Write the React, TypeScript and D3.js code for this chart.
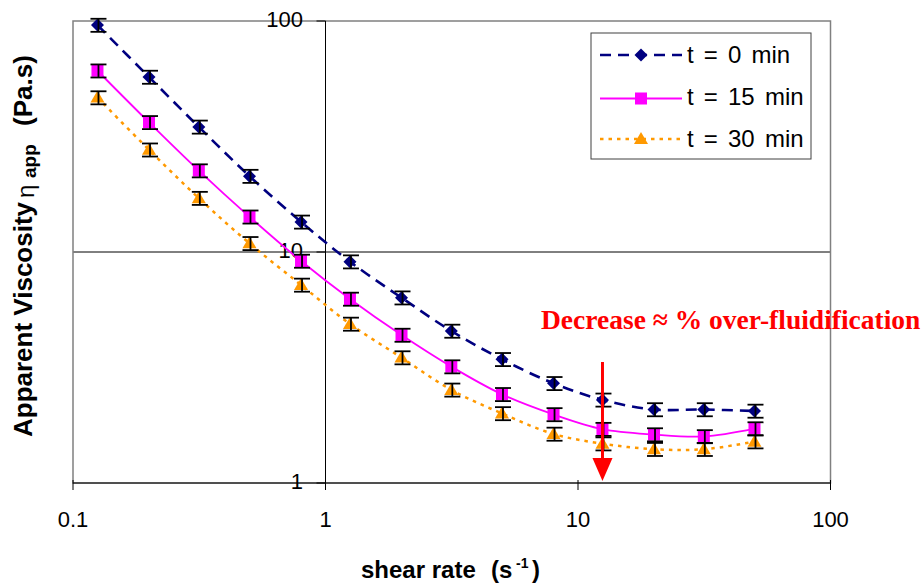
import React from "react";
import * as d3 from "d3";

const shearRate = [0.125, 0.2, 0.315, 0.5, 0.8, 1.25, 2, 3.15, 5, 8, 12.5, 20, 31.5, 50];
const eta0 = [96, 57.2, 34.8, 21.3, 13.5, 9.08, 6.34, 4.55, 3.43, 2.7, 2.29, 2.08, 2.08, 2.05];
const eta15 = [60.9, 36.4, 22.5, 14.2, 9.14, 6.26, 4.37, 3.19, 2.42, 1.98, 1.71, 1.62, 1.59, 1.72];
const eta30 = [46.6, 27.7, 17.1, 10.9, 7.2, 4.88, 3.49, 2.53, 2.0, 1.63, 1.48, 1.4, 1.4, 1.51];
const relError = [0.065, 0.065, 0.065];
const seriesNames = ["t = 0 min", "t = 15 min", "t = 30 min"];
const xTicks = [0.1, 1, 10, 100];
const yTicks = [1, 10, 100];
const arrowX = 12.5;
const annotation = "Decrease ≈ % over-fluidification";

const W = 923, H = 586;
const L = 73, R = 830.5, T = 21, B = 483;
const SANS = "'Liberation Sans', Arial, sans-serif";
const SERIF = "'Liberation Serif', 'Times New Roman', serif";

type Series = { name: string; values: number[]; color: string; dash: string; width: number; marker: string; err: number };

export default function App() {
  const x = d3.scaleLog().domain([0.1, 100]).range([L, R]);
  const y = d3.scaleLog().domain([1, 100]).range([B, T]);
  const series: Series[] = [
    { name: seriesNames[0], values: eta0, color: "#000080", dash: "11,7", width: 2.6, marker: "diamond", err: relError[0] },
    { name: seriesNames[1], values: eta15, color: "#FF00FF", dash: "", width: 1.8, marker: "square", err: relError[1] },
    { name: seriesNames[2], values: eta30, color: "#FF9900", dash: "3.5,5", width: 2.5, marker: "triangle", err: relError[2] },
  ];
  const line = d3
    .line<number>()
    .x((_, i) => x(shearRate[i]))
    .y((d) => y(d))
    .curve(d3.curveCatmullRom.alpha(0.5));

  const marker = (type: string, cx: number, cy: number, color: string, key: string) => {
    if (type === "diamond") {
      const s = 6.5;
      return <path key={key} d={`M${cx},${cy - s}L${cx + s},${cy}L${cx},${cy + s}L${cx - s},${cy}Z`} fill={color} />;
    }
    if (type === "square") {
      const s = 6;
      return <rect key={key} x={cx - s} y={cy - s} width={2 * s} height={2 * s} fill={color} />;
    }
    const s = 7;
    return <path key={key} d={`M${cx},${cy - s}L${cx + s},${cy + 5}L${cx - s},${cy + 5}Z`} fill={color} />;
  };

  const legendRows = [55, 98.5, 139];
  const legendText = [63, 105, 147];

  return (
    <svg width={W} height={H} style={{ position: "absolute", left: 0, top: 0, background: "#fff" }}>
      <rect x={0} y={0} width={W} height={H} fill="#fff" />
      {/* grid line */}
      <line x1={L} x2={R} y1={y(10)} y2={y(10)} stroke="#000" strokeWidth={1} />
      {/* plot border */}
      <rect x={L} y={T} width={R - L} height={B - T} fill="none" stroke="#808080" strokeWidth={1.5} />
      {/* x axis */}
      <line x1={L} x2={R} y1={B} y2={B} stroke="#000" strokeWidth={1} />
      {xTicks.map((t) => (
        <g key={"xt" + t}>
          <line x1={x(t)} x2={x(t)} y1={B - 3} y2={B + 7} stroke="#000" strokeWidth={1} />
          <text x={x(t)} y={527} textAnchor="middle" fontFamily={SANS} fontSize={22}>
            {t}
          </text>
        </g>
      ))}
      {/* y axis at x = 1 */}
      <line x1={x(1)} x2={x(1)} y1={T} y2={B} stroke="#000" strokeWidth={1} />
      {yTicks.map((t) => (
        <g key={"yt" + t}>
          <line x1={x(1) - 9} x2={x(1)} y1={y(t)} y2={y(t)} stroke="#000" strokeWidth={1} />
          <text x={303} y={y(t) + 5.5} textAnchor="end" fontFamily={SANS} fontSize={22}>
            {t}
          </text>
        </g>
      ))}
      {/* series lines */}
      {series.map((s) => (
        <path key={"l" + s.name} d={line(s.values) || ""} fill="none" stroke={s.color} strokeWidth={s.width} strokeDasharray={s.dash || undefined} />
      ))}
      {/* markers */}
      {series.map((s, si) => s.values.map((v, i) => marker(s.marker, x(shearRate[i]), y(v), s.color, `m${si}-${i}`)))}
      {/* error bars */}
      {series.map((s, si) =>
        s.values.map((v, i) => {
          const cx = x(shearRate[i]) + 1;
          const y1 = y(v * (1 + s.err));
          const y2 = y(v * (1 - s.err));
          return (
            <g key={`e${si}-${i}`} stroke="#000" strokeWidth={1.8}>
              <line x1={cx} x2={cx} y1={y1} y2={y2} />
              <line x1={cx - 8} x2={cx + 8} y1={y1} y2={y1} />
              <line x1={cx - 8} x2={cx + 8} y1={y2} y2={y2} />
            </g>
          );
        })
      )}
      {/* annotation */}
      <line x1={x(arrowX)} x2={x(arrowX)} y1={362} y2={460} stroke="#FF0000" strokeWidth={3} />
      <path d={`M${x(arrowX) - 10},458L${x(arrowX) + 10},458L${x(arrowX)},481Z`} fill="#FF0000" />
      <text x={541} y={329} fontFamily={SERIF} fontWeight="bold" fontSize={27.5} fill="#FF0000">
        {annotation}
      </text>
      {/* legend */}
      <rect x={591} y={33} width={220} height={126} fill="#fff" stroke="#404040" strokeWidth={1} />
      {series.map((s, i) => (
        <g key={"lg" + i}>
          <line x1={600} x2={682} y1={legendRows[i]} y2={legendRows[i]} stroke={s.color} strokeWidth={s.width} strokeDasharray={s.dash || undefined} />
          {marker(s.marker, 641, legendRows[i], s.color, "lm" + i)}
          <text x={687} y={legendText[i]} fontFamily={SANS} fontSize={24} wordSpacing={3.5}>
            {s.name}
          </text>
        </g>
      ))}
      {/* x axis title */}
      <text y={578} fontFamily={SANS} fontWeight="bold" fontSize={24}>
        <tspan x={361}>shear rate</tspan>
        <tspan x={491}>(s</tspan>
        <tspan x={516} dy={-10} fontSize={14}>-1</tspan>
        <tspan x={532} dy={10}>)</tspan>
      </text>
      {/* y axis title */}
      <text transform="translate(31.5,0) rotate(-90)" fontFamily={SANS} fontWeight="bold" fontSize={26}>
        <tspan x={-437}>Apparent Viscosity</tspan>
        <tspan x={-198} dy={2} fontWeight="normal" fontSize={24}>η</tspan>
        <tspan x={-178} dy={2} fontSize={19}>app</tspan>
        <tspan x={-126} dy={-4}>(Pa.s)</tspan>
      </text>
    </svg>
  );
}
